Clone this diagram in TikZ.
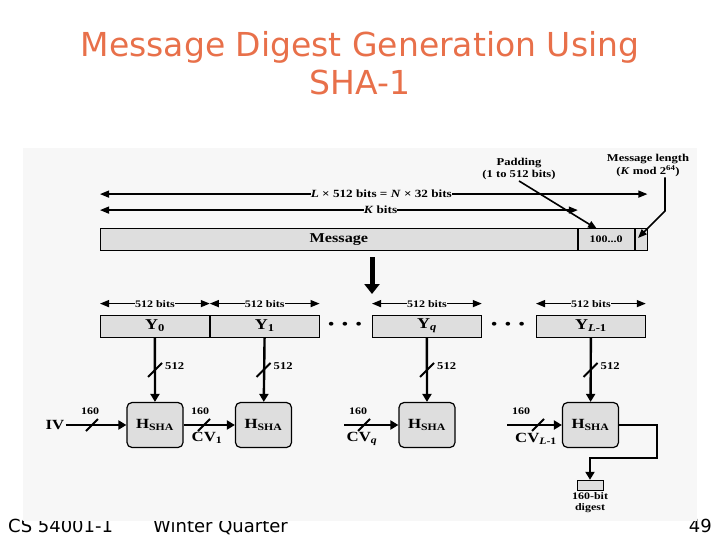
\documentclass[tikz,border=0pt]{standalone}
\usepackage{fontspec}
\newfontfamily\diagfont[FakeStretch=1.2]{Liberation Serif}
\newfontfamily\slidefont{DejaVu Sans}
\usetikzlibrary{positioning,arrows.meta,calc}
\definecolor{titleorange}{HTML}{E8704A}
\definecolor{panelgray}{HTML}{F7F7F7}
\definecolor{boxgray}{HTML}{DEDEDE}

\begin{document}
\begin{tikzpicture}[
  x=1pt, y=-1pt,
  titletxt/.style={text=titleorange, font=\slidefont\fontsize{33}{38}\selectfont, anchor=base, inner sep=0pt},
  foot/.style={font=\slidefont\fontsize{18}{20}\selectfont, inner sep=0pt},
  seg/.style={draw, thick, fill=boxgray, minimum height=22pt, inner sep=0pt, anchor=west, font=\diagfont\bfseries\fontsize{10}{11}\selectfont},
  blk/.style={seg, minimum width=109pt, font=\diagfont\bfseries\fontsize{15}{16}\selectfont},
  hbox/.style={draw, very thick, fill=boxgray, rounded corners=5pt, minimum width=56pt, minimum height=45pt, font=\diagfont\bfseries\fontsize{14}{15}\selectfont},
  lbl/.style={font=\diagfont\bfseries\fontsize{10}{11}\selectfont, inner sep=1pt, align=center},
  big/.style={font=\diagfont\bfseries\fontsize{14}{15}\selectfont, inner sep=1pt},
  dim/.style={{Triangle[length=9pt,width=7pt]}-{Triangle[length=9pt,width=7pt]}, line width=1.3pt},
  dimlbl/.style={lbl, fill=panelgray, inner xsep=0pt},
  flow/.style={-{Triangle[length=8pt,width=9pt]}, line width=2.4pt},
  thin flow/.style={-{Triangle[length=9pt,width=7pt]}, line width=1.6pt},
  slash/.style={line width=1.8pt},
]
\useasboundingbox (0,0) rectangle (720,540);

% title and footer
\node[titletxt] (title1) at (360,57) {Message Digest Generation Using};
\node[titletxt] (title2) at (360,95) {SHA-1};
\node[foot, anchor=base west] (course) at (8,532) {CS 54001-1};
\node[foot, anchor=base west] (term) at (153,532) {Winter Quarter};
\node[foot, anchor=base east] (page) at (712,532) {49};

% figure panel
\fill[panelgray] (23,148) rectangle (697,521);

% padded message
\node[seg, minimum width=477pt] (msg) at (100,239.5) {\fontsize{13.5}{14}\selectfont Message};
\node[seg, minimum width=56pt, right=0pt of msg] (pad) {100...0};
\node[seg, minimum width=12pt, right=0pt of pad] (len) {};

\draw[dim] ([yshift=34pt]msg.north west) -- node[dimlbl, pos=0.514, font=\diagfont\bfseries\fontsize{11}{12}\selectfont]
  {\textit{L} × 512 bits = \textit{N} × 32 bits} ([yshift=34pt]len.north east);
\draw[dim] ([yshift=18pt]msg.north west) -- node[dimlbl, pos=0.587, font=\diagfont\bfseries\fontsize{11}{12}\selectfont]
  {\textit{K} bits} ([yshift=18pt]msg.north east);

\node[lbl, font=\diagfont\bfseries\fontsize{10.5}{12}\selectfont] (padlbl) at (519,169) {Padding\\(1 to 512 bits)};
\node[lbl, font=\diagfont\bfseries\fontsize{10.5}{13}\selectfont] (lenlbl) at (648,165) {Message length\\(\textit{K} mod 2\textsuperscript{64})};
\coordinate (padtip) at (597,229);
\coordinate (lentip) at (638,238);
\draw[thin flow] (padlbl.south) -- (padtip);
\draw[thin flow] (lenlbl.south -| 665,0) -- (665,211) -- (lentip);

% split into blocks
\coordinate (splittop) at (372,257);
\coordinate (splittip) at (372,294);
\draw[-{Triangle[length=10pt,width=15pt]}, line width=5pt] (splittop) -- (splittip);

\node[blk] (y0) at (100,326) {Y\textsubscript{0}};
\node[blk, right=0pt of y0] (y1) {Y\textsubscript{1}};
\node[blk] (yq) at (372,326) {Y\textsubscript{\textit{q}}};
\node[blk] (yl) at (536,326) {Y\textsubscript{\textit{L}-1}};
\node[big, font=\diagfont\fontsize{16}{16}\selectfont] (dots1) at (345,326) {•\hspace{7pt}•\hspace{7pt}•};
\node[big, font=\diagfont\fontsize{16}{16}\selectfont] (dots2) at (508,326) {•\hspace{7pt}•\hspace{7pt}•};
\foreach \b in {y0,y1,yq,yl}
  \draw[dim] ([yshift=11pt]\b.north west) -- node[dimlbl] {512 bits} ([yshift=11pt]\b.north east);

% compression stages
\node[hbox] (h0) at (155,425) {H\textsubscript{SHA}};
\node[hbox] (h1) at (263.5,425) {H\textsubscript{SHA}};
\node[hbox] (h2) at (427,425) {H\textsubscript{SHA}};
\node[hbox] (h3) at (590.5,425) {H\textsubscript{SHA}};

\draw[flow] (y0) -- (h0);
\draw[flow] (y1) -- (h1);
\draw[flow] (yq) -- (h2);
\draw[flow] (yl) -- (h3);
\foreach \x in {155,263.5,427,590.5} {
  \draw[slash] (\x-7,377) -- (\x+7,363);
  \node[lbl, anchor=west, font=\diagfont\bfseries\fontsize{10.5}{11}\selectfont] at (\x+9,366) {512};
}

\node[big] (iv) at (55,425) {IV};
\coordinate (cvqstart) at (344,425);
\coordinate (cvlstart) at (507,425);
\draw[flow] (iv) -- (h0);
\draw[flow] (h0) -- (h1);
\draw[flow] (cvqstart) -- (h2);
\draw[flow] (cvlstart) -- (h3);
\foreach \x in {92,204,364,538}
  \draw[slash] (\x-6,431) -- (\x+6,419);
\node[lbl] at (90,411) {160};
\node[lbl] at (200,411) {160};
\node[lbl] at (358,411) {160};
\node[lbl] at (521,411) {160};
\node[big] (cv1) at (207,438) {CV\textsubscript{1}};
\node[big] (cvq) at (362,439) {CV\textsubscript{\textit{q}}};
\node[big] (cvl) at (536,439) {CV\textsubscript{\textit{L}-1}};

% final digest
\node[draw, fill=boxgray, minimum width=26pt, minimum height=10pt, inner sep=0pt] (digest) at (590,485) {};
\node[lbl, below=1pt of digest] (digestlbl) {160-bit\\digest};
\draw[flow] (h3.east) -- (657,425) -- (657,458) -- (590,458) -- (digest.north);
\end{tikzpicture}
\end{document}
